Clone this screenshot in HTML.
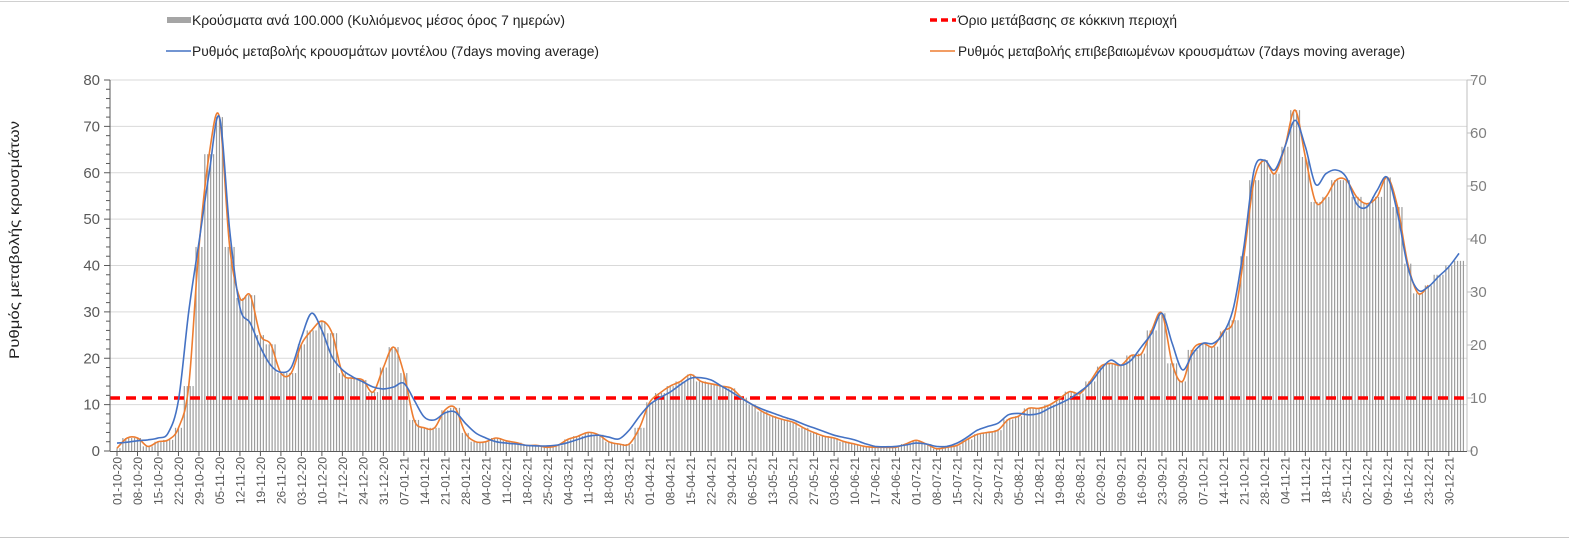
<!DOCTYPE html>
<html><head><meta charset="utf-8"><style>
html,body{margin:0;padding:0;background:#fff;}
svg{display:block;font-family:"Liberation Sans",sans-serif;}
</style></head><body>
<svg id="chart" width="1569" height="541" viewBox="0 0 1569 541" xmlns="http://www.w3.org/2000/svg">
<rect x="0" y="0" width="1569" height="541" fill="#fff"/>
<line x1="0" y1="1.5" x2="1569" y2="1.5" stroke="#d0d0d0" stroke-width="1"/>
<line x1="0" y1="537.5" x2="1569" y2="537.5" stroke="#c8c8c8" stroke-width="1"/>
<g id="grid"></g>
<g id="bars"></g>
<g id="refline"></g>
<g id="lines"></g>
<g id="axes"></g>
<text transform="translate(19,240) rotate(-90)" text-anchor="middle" font-size="14" fill="#222" textLength="238" lengthAdjust="spacingAndGlyphs">Ρυθμός μεταβολής κρουσμάτων</text>
<g>
  <g>
    <rect x="167" y="17" width="24" height="6" fill="#a5a5a5"/>
    <text x="192" y="25" font-size="14" fill="#222" textLength="373" lengthAdjust="spacingAndGlyphs">Κρούσματα ανά 100.000 (Κυλιόμενος μέσος όρος 7 ημερών)</text>
  </g>
  <g>
    <line x1="166" y1="51" x2="191" y2="51" stroke="#4472c4" stroke-width="1.6"/>
    <text x="192" y="56" font-size="14" fill="#222" textLength="407" lengthAdjust="spacingAndGlyphs">Ρυθμός μεταβολής κρουσμάτων μοντέλου (7days moving average)</text>
  </g>
  <g>
    <line x1="930" y1="20" x2="956" y2="20" stroke="#ff0000" stroke-width="3.5" stroke-dasharray="7 4"/>
    <text x="958" y="25" font-size="14" fill="#222" textLength="219" lengthAdjust="spacingAndGlyphs">Όριο μετάβασης σε κόκκινη περιοχή</text>
  </g>
  <g>
    <line x1="930" y1="51" x2="955" y2="51" stroke="#ed7d31" stroke-width="1.6"/>
    <text x="958" y="56" font-size="14" fill="#222" textLength="447" lengthAdjust="spacingAndGlyphs">Ρυθμός μεταβολής επιβεβαιωμένων κρουσμάτων (7days moving average)</text>
  </g>
</g>
</svg>
<script>
// half-week samples (every 3.5 days starting 01-10-20)
const modelRate = [1.7,1.9,2.2,2.4,2.8,3.9,11,30,45,60,72,47.6,31,27.6,22.4,18.5,17,18,24.5,29.7,26,20.3,17.5,16,14.9,13.8,13.4,13.8,14.6,11,7.3,6.7,8.2,8.4,6,3.9,2.8,2,1.7,1.5,1.2,
1.1,1.1,1.3,1.8,2.5,3.2,3.4,3,2.6,4.5,7.5,10,11.5,12.7,14.3,15.7,15.8,15.3,14,12.7,11.3,10,9,8.2,7.4,6.7,5.8,5,4.2,3.4,2.9,2.4,1.6,1,0.9,1,1.3,1.7,1.5,1,1,1.7,3,4.5,5.3,
6,7.8,8.1,7.8,8.1,9.2,10.2,11.3,12.8,14.6,17.5,19.6,18.5,19.6,22.5,25.4,29.7,23.2,17.5,21,23.2,23.2,25.4,31.1,44,60.6,62.7,60.6,65.6,71.3,65.6,57.5,59.8,60.6,59,53.3,52.6,56.2,59,51.2,39.7,34.7,35.4,37.6,39.7,42.6];
const cases = [0.6,2.8,2.8,1,2,2.4,5,14,44,64,72,44,33,33.6,25,23,16.8,16.8,23,26,28,25.4,16.8,15.7,15.3,12.7,18,22.4,16.8,6.7,5,5,8.8,9.3,3.9,2,2,2.8,2.2,1.8,1.2,
1.2,0.8,1.2,2.5,3.2,4,3.5,2,1.5,1.5,5,10.5,12.5,14,15,16.5,15,14.5,14,13.5,11.5,10,8.5,7.5,6.8,6.2,5,4,3.2,2.8,2,1.5,1,0.8,0.8,0.8,1.5,2.3,1.5,0.5,0.8,1.2,2.5,3.6,4,
4.5,6.8,7.5,9.2,9.2,9.9,11.3,12.8,12.4,15,18.2,18.9,18.5,20.6,21,26,29.7,18.9,15,21.8,23.2,22.5,25.8,28.2,42,58.4,62.7,59.8,65.6,73.5,63.4,53.7,54.8,58.4,58.4,54.8,53.3,54.8,59,52.6,40.4,34,35.7,38,40,41];
const confirmedEnd = 128; // confirmed-rate line ends at this sample
const thresholdRight = 10;
const leftTicks = [0,10,20,30,40,50,60,70,80];
const rightTicks = [0,10,20,30,40,50,60,70];
const dateLabels = ["01-10-20","08-10-20","15-10-20","22-10-20","29-10-20","05-11-20","12-11-20","19-11-20","26-11-20","03-12-20","10-12-20","17-12-20","24-12-20","31-12-20","07-01-21","14-01-21","21-01-21","28-01-21","04-02-21","11-02-21","18-02-21","25-02-21","04-03-21","11-03-21","18-03-21","25-03-21","01-04-21","08-04-21","15-04-21","22-04-21","29-04-21","06-05-21","13-05-21","20-05-21","27-05-21","03-06-21","10-06-21","17-06-21","24-06-21","01-07-21","08-07-21","15-07-21","22-07-21","29-07-21","05-08-21","12-08-21","19-08-21","26-08-21","02-09-21","09-09-21","16-09-21","23-09-21","30-09-21","07-10-21","14-10-21","21-10-21","28-10-21","04-11-21","11-11-21","18-11-21","25-11-21","02-12-21","09-12-21","16-12-21","23-12-21","30-12-21"];

const NS="http://www.w3.org/2000/svg";
const X0=117, PXD=2.927, PL=110, PR=1467, YB=451, YT=80;
const xDay = d => X0 + PXD*d;
const yL = v => YB - (YB-YT)*v/80;
const yR = v => YB - (YB-YT)*v/70;
function mk(tag, attrs, parent){const e=document.createElementNS(NS,tag);for(const k in attrs)e.setAttribute(k,attrs[k]);parent.appendChild(e);return e;}
const grid=document.getElementById('grid'), barsG=document.getElementById('bars'), linesG=document.getElementById('lines'), axes=document.getElementById('axes'), ref=document.getElementById('refline');

leftTicks.forEach(v=>{ if(v>0){const g=mk('line',{x1:PL,x2:PR,y1:yL(v),y2:yL(v),stroke:'#d9d9d9','stroke-width':1},grid);

}});

// daily bars
const nDays = Math.round((cases.length-1)*3.5)+2;
for(let d=0; d<=nDays; d++){
  const v = cases[Math.min(cases.length-1, Math.round(d/3.5))];
  const x = xDay(d);
  if(x>PR-1) break;
  const r=mk('rect',{x:x-0.6,y:yL(v),width:1.2,height:YB-yL(v),fill:'#9c9c9c'},barsG);
  
  
}

const rl=mk('line',{x1:PL,x2:PR,y1:yR(thresholdRight),y2:yR(thresholdRight),stroke:'#ff0000','stroke-width':3.5,'stroke-dasharray':'10 6'},ref);



function smoothPath(pts){
  let d='M'+pts[0][0].toFixed(1)+','+pts[0][1].toFixed(1);
  for(let i=0;i<pts.length-1;i++){
    const p0=pts[Math.max(0,i-1)],p1=pts[i],p2=pts[i+1],p3=pts[Math.min(pts.length-1,i+2)];
    const c1=[p1[0]+(p2[0]-p0[0])/6,p1[1]+(p2[1]-p0[1])/6],c2=[p2[0]-(p3[0]-p1[0])/6,p2[1]-(p3[1]-p1[1])/6];
    d+='C'+c1.map(n=>n.toFixed(1)).join(',')+' '+c2.map(n=>n.toFixed(1)).join(',')+' '+p2[0].toFixed(1)+','+p2[1].toFixed(1);
  }
  return d;
}
const modelPts = modelRate.map((v,i)=>[Math.min(PR,xDay(i*3.5)),yL(v)]);
const confPts = cases.slice(0,confirmedEnd+1).map((v,i)=>[xDay(i*3.5),yL(v)]);
const cl=mk('path',{d:smoothPath(confPts),fill:'none',stroke:'#ed7d31','stroke-width':1.6,'stroke-linejoin':'round'},linesG);


const ml=mk('path',{d:smoothPath(modelPts),fill:'none',stroke:'#4472c4','stroke-width':1.6,'stroke-linejoin':'round'},linesG);



// axes
mk('line',{x1:PL,x2:PL,y1:YT,y2:YB,stroke:'#595959','stroke-width':1},axes);
mk('line',{x1:PR,x2:PR,y1:YT,y2:YB,stroke:'#bfbfbf','stroke-width':1},axes);
mk('line',{x1:PL,x2:PR,y1:YB+0.5,y2:YB+0.5,stroke:'#595959','stroke-width':1},axes);
for(let v=0; v<=80; v+=2){ mk('line',{x1:v%10===0?104:106,x2:PL,y1:yL(v),y2:yL(v),stroke:'#595959','stroke-width':1},axes); }
leftTicks.forEach(v=>{const t=mk('text',{x:100,y:yL(v)+5,'text-anchor':'end','font-size':15,fill:'#595959'},axes);t.textContent=v;

});
rightTicks.forEach(v=>{mk('line',{x1:PR,x2:PR+6,y1:yR(v),y2:yR(v),stroke:'#bfbfbf','stroke-width':1},axes);
const t=mk('text',{x:PR+3,y:yR(v)+5,'font-size':15,fill:'#7f7f7f'},axes);t.textContent=v;

});
dateLabels.forEach((s,k)=>{const x=xDay(k*7);
mk('line',{x1:x,x2:x,y1:YB,y2:YB+5,stroke:'#595959','stroke-width':1},axes);
const t=mk('text',{transform:`translate(${x+4.5},${457}) rotate(-90)`,'text-anchor':'end','font-size':12,fill:'#595959'},axes);t.textContent=s;

});
</script>
</body></html>
